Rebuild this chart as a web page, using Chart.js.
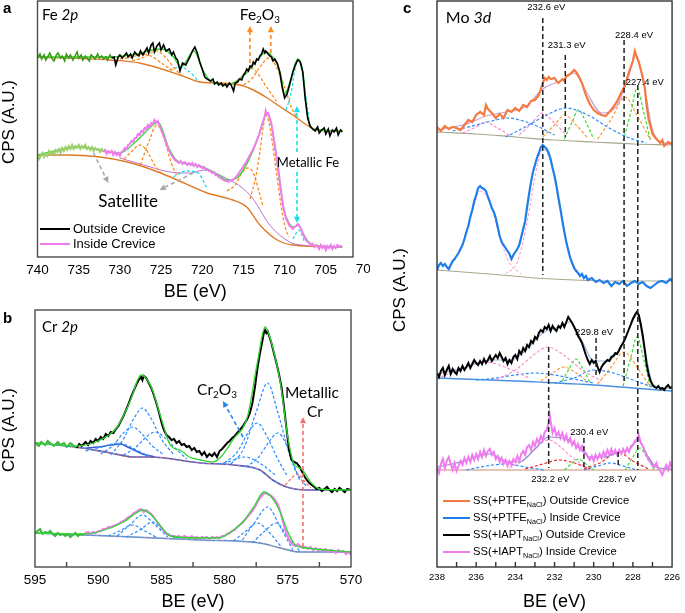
<!DOCTYPE html>
<html>
<head>
<meta charset="utf-8">
<script src="https://cdn.jsdelivr.net/npm/chart.js@4.4.0/dist/chart.umd.min.js"></script>
<style>
html, body { margin: 0; padding: 0; background: #fff; width: 685px; height: 613px; overflow: hidden; }
canvas { position: absolute; }
</style>
</head>
<body>
<canvas id="chartA" width="370" height="303" style="left:0;top:0"></canvas>
<canvas id="chartB" width="370" height="313" style="left:0;top:300px"></canvas>
<canvas id="chartC" width="300" height="613" style="left:385px;top:0"></canvas>
<script>
// --- DATEN: [BE (eV), Intensitaet (a.u.)] ---

// Panel a: Fe 2p
const feOut = [[740.0,199],[739.7,203],[739.5,198],[739.2,202],[739.0,197],[738.7,201],[738.5,204],[738.2,198],[738.0,196],[737.7,202],[737.5,204],[737.2,199],[737.0,201],[736.7,196],[736.5,203],[736.2,199],[736.0,202],[735.7,197],[735.5,200],[735.2,205],[735.0,199],[734.7,202],[734.5,197],[734.2,201],[734.0,199],[733.7,196],[733.5,202],[733.2,200],[733.0,198],[732.7,203],[732.5,199],[732.2,201],[732.0,198],[731.7,200],[731.5,197],[731.2,202],[731.0,199],[730.7,200],[730.5,192],[730.2,200],[730.0,202],[729.7,199],[729.5,201],[729.2,204],[729.0,200],[728.7,203],[728.5,199],[728.2,205],[728.0,203],[727.7,201],[727.5,206],[727.2,202],[727.0,205],[726.7,209],[726.5,204],[726.2,212],[726.0,214],[725.8,205],[725.5,211],[725.2,214],[725.0,207],[724.7,212],[724.4,206],[724.0,208],[723.7,202],[723.5,205],[723.2,199],[723.0,197],[722.7,186],[722.4,194],[722.0,192],[721.7,197],[721.5,200],[721.2,206],[720.9,210],[720.6,204],[720.3,195],[720.0,188],[719.7,180],[719.4,178],[719.0,176],[718.7,178],[718.5,173],[718.2,175],[718.0,172],[717.7,174],[717.5,171],[717.2,173],[717.0,170],[716.7,174],[716.5,172],[716.2,166],[716.0,174],[715.7,175],[715.5,178],[715.2,177],[715.0,182],[714.8,184],[714.6,188],[714.4,186],[714.2,191],[714.0,190],[713.8,195],[713.6,193],[713.4,198],[713.2,197],[713.0,201],[712.8,203],[712.6,208],[712.4,204],[712.3,206],[712.0,203],[711.8,201],[711.6,200],[711.4,196],[711.2,198],[710.9,194],[710.6,185],[710.3,170],[710.0,159],[709.7,163],[709.4,172],[709.0,185],[708.7,192],[708.4,197],[708.1,195],[707.8,185],[707.5,158],[707.2,139],[706.9,131],[706.6,128],[706.3,126],[706.0,130],[705.8,124],[705.5,127],[705.2,129],[705.0,123],[704.7,128],[704.5,121],[704.2,127],[704.0,125],[703.7,129],[703.5,122],[703.2,127],[703.0,125]];
const feOutFit = [[740,200],[731,200],[728,203],[726,207],[724.8,208],[723.5,200],[722.6,190],[721,206],[720,188],[719,176],[717,172],[715,181],[713,200],[712.3,205],[711.2,197],[710.5,184],[710,163],[709.4,174],[708.4,198],[707.8,186],[707.2,140],[706.5,128],[703,126]];
const feOutBg = [[740,200],[731.2,197],[727.6,194],[722.7,182],[720.3,175],[718.2,174],[715.4,172],[713.8,167],[712.1,159],[710.5,150],[709,142],[707.3,132],[706.1,127],[703,126]];
const feOutSat1 = [[730,198],[728.5,200],[727.2,203],[726,200],[724.8,193],[723.5,186]];
const feOutSat2 = [[728.5,196],[727,200],[725.6,206],[724.5,200],[723.3,188],[722.3,180]];
const feOutSatCy = [[724,187],[722.7,190],[721.5,185],[720.5,176]];
const feOutOx1 = [[717,172],[716,175],[715,182],[714.2,189],[713.4,185],[712.2,170],[711,156]];
const feOutOx2 = [[715,172],[714,178],[713,190],[711.9,199],[711,190],[710,170],[709.2,150],[708.4,138]];
const feOutMet = [[709.8,147],[709.2,165],[708.7,190],[708.4,197],[708.0,190],[707.5,165],[707.0,135]];

const feIn = [[740.0,102],[739.8,98],[739.6,101],[739.4,104],[739.2,100],[739.0,103],[738.8,101],[738.6,106],[738.4,103],[738.2,105],[738.0,102],[737.8,107],[737.6,105],[737.4,108],[737.2,104],[737.0,109],[736.8,106],[736.6,110],[736.4,107],[736.2,111],[736.0,108],[735.8,112],[735.6,108],[735.4,111],[735.2,109],[735.0,112],[734.8,108],[734.6,111],[734.4,109],[734.2,112],[734.0,108],[733.8,110],[733.6,107],[733.4,110],[733.2,106],[733.0,109],[732.8,107],[732.6,108],[732.4,105],[732.2,108],[732.0,105],[731.8,107],[731.6,103],[731.4,106],[731.2,104],[731.0,106],[730.8,102],[730.6,105],[730.4,102],[730.2,104],[730.0,101],[729.8,105],[729.6,106],[729.4,109],[729.2,108],[729.0,112],[728.8,113],[728.6,116],[728.4,115],[728.2,119],[728.0,119],[727.8,123],[727.6,122],[727.4,126],[727.2,125],[727.0,129],[726.8,128],[726.6,132],[726.4,130],[726.2,134],[726.0,133],[725.8,137],[725.6,134],[725.4,136],[725.2,131],[725.0,128],[724.8,123],[724.6,119],[724.4,114],[724.2,110],[724.0,106],[723.8,103],[723.6,100],[723.4,98],[723.2,96],[723.0,95],[722.8,94],[722.6,96],[722.4,93],[722.2,95],[722.0,94],[721.8,92],[721.6,94],[721.4,92],[721.2,94],[721.0,91],[720.8,93],[720.6,90],[720.4,92],[720.2,90],[720.0,89],[719.8,90],[719.6,87],[719.4,88],[719.2,86],[719.0,86],[718.8,84],[718.6,85],[718.4,82],[718.2,82],[718.0,80],[717.8,79],[717.6,78],[717.4,77],[717.2,76],[717.0,76],[716.8,75],[716.6,77],[716.4,76],[716.2,78],[716.0,79],[715.8,81],[715.6,83],[715.4,86],[715.2,88],[715.0,91],[714.8,93],[714.6,96],[714.4,99],[714.2,102],[714.0,105],[713.8,108],[713.6,112],[713.4,116],[713.2,120],[713.0,125],[712.8,131],[712.6,136],[712.4,141],[712.3,146],[712.2,143],[712.0,144],[711.8,139],[711.6,133],[711.4,122],[711.2,112],[711.0,101],[710.8,90],[710.6,77],[710.4,64],[710.2,51],[710.0,44],[709.8,38],[709.6,35],[709.4,31],[709.2,30],[709.0,28],[708.8,30],[708.6,31],[708.4,33],[708.2,31],[708.0,28],[707.8,24],[707.6,20],[707.4,17],[707.2,15],[707.0,14],[706.8,12],[706.6,13],[706.4,10],[706.2,12],[706.0,11],[705.8,8],[705.6,12],[705.4,9],[705.2,11],[705.0,7],[704.8,11],[704.6,9],[704.4,12],[704.2,8],[704.0,11],[703.8,9],[703.6,12],[703.4,10],[703.2,11],[703.0,10]];
const feInFit = [[740,102],[735,110],[731,105],[730,104],[728,116],[726,132],[725.4,135],[724,108],[723,96],[720.3,91],[718,82],[717,77],[716,78],[714,103],[712.8,130],[712.2,144],[711.5,128],[711,100],[710.5,68],[710,45],[709.4,33],[708.9,30],[708.3,32],[707.8,24],[707,14],[706,11],[703,10]];
const feInBg = [[740,102],[736.4,102],[732.4,100],[729.1,95],[726,87],[723.6,79],[719.4,64],[716.3,57],[714.6,50],[713,32],[710.9,17],[709,12],[703,10]];
const feInShirley = [[730,99],[726.3,90],[723.9,85],[721.5,84],[719.7,87],[717.9,82],[714.2,62],[711.8,32],[709.4,15],[707,11]];
const feInSat1 = [[729.5,98],[728.5,106],[727.6,112],[726.7,106],[725.8,92],[725,84]];
const feInSat2 = [[727.5,92],[726.5,115],[725.5,132],[724.6,118],[723.8,95],[723,80]];
const feInSatCy = [[723.5,80],[722,86],[720.5,84],[719.5,70]];
const feInOx1 = [[717,66],[716,72],[715.2,84],[714.5,89],[713.8,84],[713.2,68],[712.6,50]];
const feInOx2 = [[714.2,58],[713.5,80],[713,105],[712.6,130],[712.3,142],[712,138],[711.5,115],[711,85],[710.5,55],[710,32],[709.5,20]];
const feInMet = [[709,18],[708.6,24],[708.3,27],[707.9,22],[707.6,15]];

// Panel b: Cr 2p
const crOut = [[595.0,124],[594.7,121],[594.5,125],[594.2,122],[594.0,126],[593.7,123],[593.5,121],[593.2,125],[593.0,122],[592.7,124],[592.5,120],[592.2,124],[592.0,122],[591.7,119],[591.5,123],[591.3,121],[591.0,125],[590.8,122],[590.6,126],[590.4,124],[590.2,128],[590.0,126],[589.8,130],[589.6,128],[589.4,133],[589.2,131],[589.0,135],[588.8,134],[588.6,138],[588.4,141],[588.2,146],[588.0,151],[587.8,157],[587.6,163],[587.4,170],[587.2,176],[587.0,182],[586.8,187],[586.6,190],[586.5,187],[586.4,191],[586.2,189],[586.0,184],[585.8,179],[585.6,172],[585.4,164],[585.2,155],[585.0,145],[584.8,137],[584.6,132],[584.4,130],[584.2,127],[584.0,128],[583.8,124],[583.6,126],[583.4,122],[583.2,123],[583.0,120],[582.8,121],[582.6,117],[582.4,119],[582.2,115],[582.0,116],[581.8,112],[581.6,115],[581.4,110],[581.2,113],[581.0,111],[580.8,114],[580.6,110],[580.4,116],[580.2,118],[580.0,121],[579.8,124],[579.6,126],[579.4,129],[579.2,131],[579.0,134],[578.8,137],[578.6,140],[578.4,144],[578.2,148],[578.0,154],[577.8,164],[577.6,180],[577.4,199],[577.2,214],[577.0,227],[576.9,234],[576.8,237],[576.7,234],[576.6,236],[576.5,232],[576.3,224],[576.1,214],[575.9,204],[575.7,193],[575.5,180],[575.3,160],[575.1,138],[574.9,117],[574.7,107],[574.5,105],[574.3,104],[574.1,101],[573.9,96],[573.7,91],[573.5,87],[573.3,84],[573.1,82],[572.9,80],[572.7,78],[572.5,79],[572.3,76],[572.1,78],[571.9,80],[571.7,77],[571.5,75],[571.3,78],[571.1,76],[570.9,79],[570.7,77],[570.5,75],[570.3,78],[570.0,77]];
const crOutFit = [[595,124],[591.8,121],[590,126],[588.5,140],[587.5,165],[586.6,192],[585.8,180],[585,148],[584.3,122],[583.4,116],[582.8,110],[581.9,107],[580.9,105],[580.3,110],[579.3,128],[578.2,150],[577.4,205],[576.8,240],[576.2,220],[575.6,185],[575,130],[574.5,103],[573.9,98],[573.2,85],[572.5,78],[570,77]];
const crOutBg = [[595,124],[591.8,120],[589,114],[587.2,110],[585.9,110],[581.9,104],[579.3,102],[577.2,97],[576.2,87],[575.1,80],[573.5,77],[570,77]];
const crOutBgHump = [[591,119],[590,120],[589,122],[588.3,123],[587.5,119],[586.5,113],[585.5,110]];
const crOxA = [[589,112],[588,128],[587.2,148],[586.5,159],[585.8,148],[585,128],[584,112]];
const crOxB = [[589.8,113],[588.8,122],[588,134],[587.3,140],[586.6,134],[585.8,122],[584.8,112]];
const crOxC = [[588,112],[587,120],[586.2,130],[585.5,135],[584.8,130],[584,120],[583,108]];
const crOxD = [[591,116],[590,119],[589.2,122],[588.5,124],[587.8,122],[587,117],[586,111]];
const crOxE = [[579.5,103],[578.5,118],[577.5,155],[576.6,184],[575.8,155],[574.8,110],[574,85]];
const crOxF = [[580,104],[579,115],[578.1,135],[577.4,144],[576.7,132],[575.8,108],[575,90]];
const crOxG = [[578.3,100],[577.3,110],[576.5,125],[575.8,134],[575.1,122],[574.3,95],[573.5,80]];
const crOxH = [[580.5,103],[579.5,106],[578.9,109],[578.4,110],[577.8,108],[577,102],[576,92]];
const crOutMet = [[575.2,82],[574.6,90],[574.2,93],[573.7,86],[573.2,79]];

const crIn = [[595.0,34],[594.8,36],[594.6,38],[594.4,33],[594.2,35],[594.0,34],[593.8,36],[593.6,33],[593.4,31],[593.2,34],[593.0,32],[592.8,33],[592.6,31],[592.4,33],[592.2,30],[592.0,32],[591.8,34],[591.6,31],[591.4,33],[591.2,32],[591.0,34],[590.8,35],[590.6,33],[590.4,35],[590.2,34],[590.0,36],[589.8,36],[589.6,38],[589.4,38],[589.2,40],[589.0,40],[588.8,41],[588.6,42],[588.4,43],[588.2,45],[588.0,46],[587.8,48],[587.6,50],[587.4,51],[587.2,54],[587.0,55],[586.8,57],[586.6,58],[586.4,55],[586.2,57],[586.0,55],[585.8,53],[585.6,50],[585.4,46],[585.2,43],[585.0,39],[584.8,36],[584.6,33],[584.4,32],[584.2,31],[584.0,31],[583.8,30],[583.6,31],[583.4,29],[583.2,31],[583.0,30],[582.8,29],[582.6,31],[582.4,29],[582.2,30],[582.0,28],[581.8,30],[581.6,29],[581.4,30],[581.2,28],[581.0,30],[580.8,29],[580.6,30],[580.4,29],[580.2,31],[580.0,31],[579.8,33],[579.6,34],[579.4,36],[579.2,37],[579.0,40],[578.8,42],[578.6,44],[578.4,47],[578.2,50],[578.0,53],[577.8,56],[577.6,60],[577.4,65],[577.2,69],[577.0,72],[576.8,74],[576.6,73],[576.4,72],[576.2,70],[576.0,67],[575.8,63],[575.6,56],[575.4,46],[575.2,37],[575.0,30],[574.8,25],[574.6,22],[574.4,21],[574.2,23],[574.0,21],[573.8,19],[573.6,20],[573.4,18],[573.2,20],[573.0,17],[572.8,19],[572.6,17],[572.4,18],[572.2,16],[572.0,18],[571.8,15],[571.6,17],[571.4,16],[571.2,14],[571.0,17],[570.8,15],[570.6,16],[570.4,13],[570.2,15],[570.0,12]];
const crInFit = [[595,34],[591,33],[589.5,37],[588,45],[587,54],[586.5,57],[585.8,52],[585,40],[584.3,31],[582,29],[580.5,29],[579.5,35],[578.5,46],[577.6,62],[576.9,75],[576.3,70],[575.6,55],[575,35],[574.4,22],[573.5,19],[570,15]];
const crInBg = [[595,34],[589.1,31],[581.9,27],[577.2,24],[575.6,19],[574,15],[570,15]];
const crInA = [[588.5,31],[587.5,42],[586.5,52],[585.5,42],[584.5,30]];
const crInB = [[589.2,31],[588.3,36],[587.3,42],[586.3,36],[585.3,29]];
const crInC = [[587.8,30],[586.7,37],[585.7,45],[584.8,36],[583.8,28]];
const crInD = [[578.6,27],[577.6,45],[576.6,60],[575.6,40],[574.6,17]];
const crInE = [[579.3,26],[578.3,36],[577.4,44],[576.5,35],[575.5,20]];
const crInF = [[577.8,24],[576.9,35],[575.9,44],[575,30],[574,15]];

// Beginn des gefitteten Bereichs (links davon ist die Messkurve gruen)
const feFitStart = 731.0;
const crOutFitStart = 591.8;
const crInFitStart = 591.2;

// Panel c: Mo 3d
const moPtfeOut = [[238.0,440],[237.8,436],[237.6,441],[237.4,438],[237.2,440],[237.0,439],[236.8,437],[236.6,442],[236.4,447],[236.2,445],[236.0,452],[235.8,455],[235.6,452],[235.5,462],[235.4,458],[235.2,454],[235.0,449],[234.8,453],[234.6,449],[234.4,457],[234.2,455],[234.0,459],[233.8,456],[233.6,462],[233.4,460],[233.2,466],[233.0,467],[232.8,472],[232.6,484],[232.5,489],[232.4,487],[232.3,490],[232.2,488],[232.0,489],[231.9,486],[231.8,484],[231.6,488],[231.5,486],[231.4,491],[231.2,493],[231.0,497],[230.9,495],[230.8,492],[230.6,484],[230.4,472],[230.2,463],[230.0,457],[229.8,454],[229.6,452],[229.4,451],[229.2,455],[229.0,460],[228.8,466],[228.6,474],[228.4,482],[228.2,495],[228.0,506],[227.9,516],[227.8,510],[227.7,505],[227.5,490],[227.4,480],[227.3,462],[227.2,448],[227.0,433],[226.8,428],[226.6,424],[226.5,427],[226.4,421],[226.2,425],[226.0,423]];
const moPtfeOutFit = [[238,437],[236.5,443],[235.5,451],[234.5,455],[233.5,460],[232.6,478],[231.6,487],[231,494],[230.4,476],[229.6,454],[228.8,462],[228.2,492],[227.85,512],[227.4,478],[227,437],[226.4,424],[226,423]];
const moPtfeOutBg = [[238,435],[236,433],[234,430],[232,427],[230,425],[228,423],[226,422]];
const moPtfeOutB1 = [[237.2,436],[236,442],[235,447],[234.4,449],[233.6,446],[232.8,440],[232,432]];
const moPtfeOutB2 = [[234.5,430],[233.5,440],[232.5,451],[231.4,459],[230.3,452],[229.3,440],[228.3,430],[227.3,424]];
const moPtfeOutP1 = [[236.7,434],[236,440],[235.5,445],[235,440],[234.3,432]];
const moPtfeOutP2 = [[233.8,432],[233.2,443],[232.62,454],[232,444],[231.4,432]];
const moPtfeOutO1 = [[232.6,430],[232,442],[231.48,452],[230.9,442],[230.3,429]];
const moPtfeOutO2 = [[229.8,428],[229.1,448],[228.4,470],[227.8,452],[227.1,427]];
const moPtfeOutG1 = [[231.5,428],[231.1,445],[230.78,457],[230.4,445],[230,428]];
const moPtfeOutG2 = [[228.5,426],[228.1,455],[227.79,479],[227.45,455],[227.1,426]];

const moPtfeIn = [[238.0,297],[237.9,302],[237.8,304],[237.7,301],[237.6,303],[237.5,300],[237.4,298],[237.3,302],[237.2,306],[237.1,308],[237.0,311],[236.9,314],[236.8,318],[236.7,322],[236.6,328],[236.5,335],[236.4,341],[236.3,350],[236.2,357],[236.1,366],[236.0,372],[235.9,379],[235.8,381],[235.7,379],[235.6,378],[235.5,376],[235.4,370],[235.3,365],[235.2,359],[235.1,355],[235.0,349],[234.9,340],[234.8,331],[234.7,325],[234.6,322],[234.5,319],[234.4,316],[234.3,313],[234.2,308],[234.1,312],[234.0,315],[233.9,318],[233.8,322],[233.7,330],[233.6,338],[233.5,346],[233.4,360],[233.3,373],[233.2,385],[233.1,395],[233.0,402],[232.9,409],[232.8,414],[232.7,420],[232.6,422],[232.5,420],[232.4,418],[232.3,414],[232.2,408],[232.1,399],[232.0,391],[231.9,381],[231.8,369],[231.7,358],[231.6,346],[231.5,335],[231.4,325],[231.3,317],[231.2,309],[231.1,304],[231.0,299],[230.9,296],[230.8,294],[230.7,291],[230.6,293],[230.5,289],[230.4,291],[230.3,287],[230.1,289],[229.9,285],[229.7,287],[229.5,284],[229.3,286],[229.1,281],[228.9,285],[228.7,283],[228.5,286],[228.3,281],[228.1,284],[227.9,286],[227.7,283],[227.5,285],[227.3,281],[227.1,279],[226.9,282],[226.7,285],[226.5,286],[226.3,284],[226.1,288],[226.0,286]];
const moPtfeInBg = [[238,297],[236,294],[234.7,292],[233,289],[231,287],[229,286],[226,286]];
const moPtfeInP1 = [[237.5,298],[236.8,318],[236.2,355],[235.8,376],[235.3,365],[234.8,330],[234.3,304],[233.7,293]];
const moPtfeInP2 = [[234.5,293],[233.9,305],[233.4,345],[232.9,400],[232.6,418],[232.2,405],[231.7,356],[231.2,310],[230.6,290]];

const moIaptOut = [[238.0,194],[237.9,190],[237.8,196],[237.7,199],[237.6,192],[237.5,197],[237.4,201],[237.3,193],[237.2,198],[237.1,195],[237.0,193],[236.9,199],[236.8,196],[236.7,201],[236.6,197],[236.5,200],[236.4,204],[236.3,199],[236.2,203],[236.1,207],[236.0,204],[235.9,202],[235.8,206],[235.7,203],[235.6,208],[235.5,204],[235.4,207],[235.3,211],[235.2,206],[235.1,209],[235.0,212],[234.9,209],[234.8,214],[234.7,210],[234.6,206],[234.5,209],[234.4,203],[234.3,207],[234.2,204],[234.1,210],[234.0,212],[233.9,208],[233.8,216],[233.7,213],[233.6,219],[233.5,216],[233.4,222],[233.3,220],[233.2,226],[233.1,224],[233.0,230],[232.9,228],[232.8,234],[232.7,237],[232.6,235],[232.5,240],[232.4,238],[232.3,242],[232.2,236],[232.1,241],[232.0,238],[231.9,236],[231.8,241],[231.7,239],[231.6,244],[231.5,240],[231.4,245],[231.3,250],[231.2,247],[231.1,244],[231.0,240],[230.9,236],[230.8,231],[230.7,228],[230.6,224],[230.5,218],[230.4,212],[230.3,207],[230.2,203],[230.1,207],[230.0,204],[229.9,206],[229.8,200],[229.7,195],[229.6,200],[229.5,203],[229.4,205],[229.3,207],[229.2,206],[229.1,210],[229.0,211],[228.9,214],[228.8,213],[228.7,217],[228.6,221],[228.5,224],[228.4,228],[228.3,233],[228.2,238],[228.1,243],[228.0,248],[227.9,252],[227.8,255],[227.7,252],[227.6,243],[227.5,232],[227.4,218],[227.3,203],[227.2,193],[227.1,186],[227.0,182],[226.9,180],[226.8,179],[226.7,181],[226.6,178],[226.5,179],[226.4,177],[226.3,180],[226.2,182],[226.1,179],[226.0,180]];
const moIaptOutFit = [[238,193],[236.5,200],[235.3,207],[234.3,207],[233.5,216],[232.6,234],[231.8,240],[231.2,245],[230.6,226],[230,206],[229.3,206],[228.6,220],[228.1,242],[227.8,252],[227.4,218],[227,184],[226.5,179],[226,179]];
const moIaptOutBg = [[238,189],[234,186],[230,182],[228,179],[226,176]];
const moIaptOutP1 = [[237.8,190],[236.8,198],[235.5,205],[234.3,198],[233.3,189]];
const moIaptOutP2 = [[235,187],[234,197],[233,213],[232.37,220],[231.6,213],[230.6,197],[229.6,186]];
const moIaptOutB1 = [[236,187],[235,189],[234,192],[233,194],[232,192],[231,188],[230,184]];
const moIaptOutB2 = [[232,184],[231,189],[230,197],[229,194],[228,187],[227,180]];
const moIaptOutO1 = [[232.7,186],[232.1,194],[231.53,200],[230.9,194],[230.3,185]];
const moIaptOutO2 = [[229.8,183],[229.1,200],[228.44,215],[227.8,200],[227.1,180]];
const moIaptOutG1 = [[231.6,186],[231.2,200],[230.93,208],[230.6,200],[230.2,185]];
const moIaptOutG2 = [[228.5,181],[228.1,210],[227.79,230],[227.45,208],[227.1,179]];

const moIaptIn = [[238.0,100],[237.9,94],[237.8,103],[237.7,108],[237.6,99],[237.5,106],[237.4,110],[237.3,103],[237.2,97],[237.1,104],[237.0,96],[236.9,101],[236.8,106],[236.7,102],[236.6,109],[236.5,104],[236.4,110],[236.3,105],[236.2,112],[236.1,107],[236.0,113],[235.9,108],[235.8,115],[235.7,110],[235.6,117],[235.5,111],[235.4,116],[235.3,118],[235.2,112],[235.1,115],[235.0,108],[234.9,111],[234.8,105],[234.7,109],[234.6,103],[234.5,107],[234.4,101],[234.3,106],[234.2,102],[234.1,108],[234.0,105],[233.9,111],[233.8,106],[233.7,113],[233.6,116],[233.5,112],[233.4,120],[233.3,122],[233.2,117],[233.1,125],[233.0,121],[232.9,128],[232.8,124],[232.7,131],[232.6,127],[232.5,135],[232.4,137],[232.3,144],[232.25,153],[232.2,146],[232.1,134],[232.0,139],[231.9,131],[231.8,135],[231.7,129],[231.6,134],[231.5,127],[231.4,132],[231.3,125],[231.2,129],[231.1,122],[231.0,126],[230.9,119],[230.8,123],[230.7,117],[230.6,121],[230.5,115],[230.4,114],[230.3,110],[230.2,107],[230.1,111],[230.0,106],[229.9,112],[229.8,108],[229.7,113],[229.6,109],[229.5,115],[229.4,111],[229.3,117],[229.2,112],[229.1,118],[229.0,113],[228.9,117],[228.8,112],[228.7,117],[228.6,113],[228.5,118],[228.4,114],[228.3,119],[228.2,115],[228.1,121],[228.0,122],[227.9,126],[227.8,128],[227.7,132],[227.6,124],[227.5,121],[227.4,116],[227.3,112],[227.2,107],[227.1,105],[227.0,101],[226.9,100],[226.8,104],[226.7,98],[226.6,96],[226.5,92],[226.4,97],[226.3,102],[226.2,97],[226.1,104],[226.0,99]];
const moIaptInFit = [[238,100],[237,104],[236,110],[235.3,113],[234.5,106],[233.8,105],[233,118],[232.3,130],[231.5,128],[230.8,120],[230.2,110],[229.5,110],[228.8,114],[228.2,117],[227.7,127],[227.3,113],[226.8,100],[226,98]];
const moIaptInBg = [[238,97],[232,97],[226,97]];
const moIaptInP1 = [[234.3,99],[233.5,108],[232.8,122],[232.27,127],[231.7,120],[231,108],[230.3,99]];
const moIaptInR1 = [[233.5,98],[232.6,103],[231.78,107],[231,104],[230.2,98]];
const moIaptInR2 = [[230.5,98],[229.6,105],[228.79,115],[228,106],[227.2,98]];
const moIaptInG1 = [[231.5,97],[231.1,104],[230.78,108],[230.4,103],[230,97]];
const moIaptInG2 = [[228.4,97],[228,110],[227.64,119],[227.3,110],[226.9,97]];
const moIaptInB1 = [[236.5,97],[235.5,101],[234.5,103],[233.5,100],[232.5,97]];
const moIaptInB2 = [[230.5,97],[229.8,101],[229.14,104],[228.5,101],[227.8,97]];

// Markierungen (BE-Lage, oberes und unteres Ende der gestrichelten Linie, Beschriftung)
const moMarkBE = [232.6, 231.45, 228.45, 227.75, 229.88, 232.3, 230.5, 228.75];
const moMarkTop = [549, 512, 527, 482, 229, 220, 129, 115];
const moMarkBottom = [292, 430, 184, 97, 192, 99, 99, 99];
const moLabelText = ['232.6 eV', '231.3 eV', '228.4 eV', '227.4 eV', '229.8 eV', '232.2 eV', '230.4 eV', '228.7 eV'];
const moLabelBE = [232.42, 231.38, 227.94, 227.39, 229.98, 232.22, 230.23, 228.79];
const moLabelY = [560, 522, 532, 485, 235, 88, 135, 88];

const moLegendNames = ['PTFE', 'PTFE', 'IAPT', 'IAPT'];
const moLegendSides = ['Outside Crevice', 'Inside Crevice', 'Outside Crevice', 'Inside Crevice'];

// --- ENDE DATEN ---

const ARIAL = '"Liberation Sans", Arial, sans-serif';
const CALI = 'Lato, "Open Sans", sans-serif';

function ser(pts, color, extra) {
  return Object.assign({
    data: pts.map(p => ({ x: p[0], y: p[1] })),
    borderColor: color, borderWidth: 1.5, pointRadius: 0, fill: false, tension: 0
  }, extra || {});
}
function smooth(pts, color, w) {
  return ser(pts, color, { borderWidth: w || 1.2, cubicInterpolationMode: 'monotone' });
}
function comp(pts, color, w, dash) {
  return ser(pts, color, { borderWidth: w || 1.2, borderDash: dash || [3, 2], cubicInterpolationMode: 'monotone' });
}
// Messkurve: links vom Fitbereich gruen eingefaerbt
function measured(pts, color, w, fitStart, fitColor) {
  return ser(pts, color, {
    borderWidth: w,
    segment: { borderColor: c => (c.p0.parsed.x > fitStart ? fitColor : undefined) }
  });
}

// Text mit Tief- und Kursivstellung: '_' = tief, '*' = kursiv
function drawRich(ctx, parts, x, y, size, fam, color, align, weight) {
  const fontOf = p => {
    const sub = p[0] === '_', it = p[0] === '*';
    return (it ? 'italic ' : '') + (weight || '') + ' ' + (sub ? size * 0.64 : size) + 'px ' + fam;
  };
  const txt = p => (p[0] === '_' || p[0] === '*') ? p.slice(1) : p;
  let w = 0;
  parts.forEach(p => { ctx.font = fontOf(p); w += ctx.measureText(txt(p)).width; });
  let cx = align === 'center' ? x - w / 2 : x;
  ctx.fillStyle = color;
  ctx.textAlign = 'left';
  ctx.textBaseline = 'middle';
  parts.forEach(p => {
    ctx.font = fontOf(p);
    ctx.fillText(txt(p), cx, p[0] === '_' ? y + size * 0.32 : y);
    cx += ctx.measureText(txt(p)).width;
  });
}

function drawArrow(ctx, x1, y1, x2, y2, color, w, head) {
  const ang = Math.atan2(y2 - y1, x2 - x1);
  ctx.strokeStyle = color;
  ctx.fillStyle = color;
  ctx.lineWidth = w;
  ctx.setLineDash([4, 3]);
  ctx.beginPath();
  ctx.moveTo(x1, y1);
  ctx.lineTo(x2 - Math.cos(ang) * head * 0.8, y2 - Math.sin(ang) * head * 0.8);
  ctx.stroke();
  ctx.setLineDash([]);
  ctx.beginPath();
  ctx.moveTo(x2, y2);
  ctx.lineTo(x2 - head * Math.cos(ang - 0.45), y2 - head * Math.sin(ang - 0.45));
  ctx.lineTo(x2 - head * Math.cos(ang + 0.45), y2 - head * Math.sin(ang + 0.45));
  ctx.closePath();
  ctx.fill();
}

const panelDeco = {
  id: 'panelDeco',
  afterDatasetsDraw(chart, args, o) {
    const { ctx, chartArea: a, scales: { x, y } } = chart;
    ctx.save();
    // Rahmen
    ctx.strokeStyle = o.boxColor;
    ctx.lineWidth = 1.4;
    ctx.setLineDash([]);
    ctx.strokeRect(a.left, a.top, a.right - a.left, a.bottom - a.top);
    // innenliegende Teilstriche
    (o.minorTicks || []).forEach(v => {
      const px = x.getPixelForValue(v);
      ctx.beginPath();
      ctx.moveTo(px, a.bottom);
      ctx.lineTo(px, a.bottom - 5);
      ctx.stroke();
    });
    // angeschnittene Achsbeschriftung rechts (Panel a)
    if (o.edgeTick) {
      drawRich(ctx, [String(o.edgeTick)], x.getPixelForValue(o.edgeTick), a.bottom + 12, 13.5, ARIAL, '#000', 'center');
    }
    // Pfeile
    (o.arrows || []).forEach(ar => {
      drawArrow(ctx, x.getPixelForValue(ar.from[0]), y.getPixelForValue(ar.from[1]),
        x.getPixelForValue(ar.to[0]), y.getPixelForValue(ar.to[1]), ar.color, ar.w || 1.6, ar.head || 7);
    });
    // Beschriftungen im Datenraum
    (o.texts || []).forEach(t => {
      drawRich(ctx, t.parts, x.getPixelForValue(t.x), y.getPixelForValue(t.y), t.size, t.fam || ARIAL, t.color || '#000', t.align || 'center');
    });
    // Legende
    if (o.legend) {
      const L = o.legend;
      L.items.forEach((it, i) => {
        const yy = L.y0 + i * L.dy;
        ctx.strokeStyle = it.color;
        ctx.lineWidth = 2;
        ctx.beginPath();
        ctx.moveTo(L.x0, yy);
        ctx.lineTo(L.x0 + L.len, yy);
        ctx.stroke();
        drawRich(ctx, it.parts, L.x0 + L.len + 3, yy, L.size, ARIAL, '#000', 'left');
      });
    }
    // Panelbuchstabe und y-Titel
    drawRich(ctx, [o.letter], o.letterPos[0], o.letterPos[1], 15, ARIAL, '#000', 'left', 'bold');
    ctx.translate(o.yTitlePos[0], o.yTitlePos[1]);
    ctx.rotate(-Math.PI / 2);
    drawRich(ctx, ['CPS (A.U.)'], 0, 0, 17, ARIAL, '#000', 'center');
    ctx.restore();
  }
};

function makeChart(id, cfg) {
  return new Chart(document.getElementById(id), {
    type: 'line',
    data: { datasets: cfg.datasets },
    options: {
      responsive: false,
      animation: false,
      events: [],
      layout: { padding: cfg.pad },
      scales: {
        x: {
          type: 'linear', reverse: true, min: cfg.xmin, max: cfg.xmax,
          afterFit: s => { s.height = cfg.axisH; },
          grid: { display: false, drawTicks: false },
          border: { display: false },
          ticks: {
            stepSize: cfg.step, includeBounds: false, autoSkip: false, maxRotation: 0,
            padding: cfg.tickPad, color: '#000', font: { family: ARIAL, size: cfg.tickSize }
          },
          title: { display: true, text: 'BE (eV)', color: '#000', padding: 0, font: { family: ARIAL, size: 18 } }
        },
        y: { display: false, min: 0, max: cfg.ymax }
      },
      plugins: { legend: { display: false }, tooltip: { enabled: false }, panelDeco: cfg.deco }
    },
    plugins: [panelDeco]
  });
}

// Farben
const ORANGE_DASH = '#ff8a1c', ORANGE_BG = '#e07a26', CYAN = '#14e0f0', LIME = '#2fd62f';
const VIOLET = '#f07cf0', BLUE_DASH = '#2b8cff';

// Panel a
makeChart('chartA', {
  xmin: 701.7, xmax: 740, step: 5, ymax: 256, axisH: 46, tickPad: 5, tickSize: 13.5,
  pad: { left: 37.5, right: 17, top: 1, bottom: 0 },
  datasets: [
    measured(feOut, '#000', 1.6, feFitStart, '#3c9a1c'),
    smooth(feOutFit, LIME, 1.3),
    measured(feIn, VIOLET, 2, feFitStart + 1, '#9ccf6a'),
    smooth(feInFit, LIME, 1.3),
    comp(feOutMet, CYAN, 1.3),
    comp(feOutOx1, ORANGE_DASH, 1.3), comp(feOutOx2, ORANGE_DASH, 1.3),
    comp(feOutSat1, ORANGE_DASH, 1.3), comp(feOutSat2, ORANGE_DASH, 1.3), comp(feOutSatCy, CYAN, 1.3),
    smooth(feOutBg, ORANGE_BG, 1.4),
    comp(feInMet, CYAN, 1.3),
    comp(feInOx1, ORANGE_DASH, 1.3), comp(feInOx2, ORANGE_DASH, 1.3),
    comp(feInSat1, ORANGE_DASH, 1.3), comp(feInSat2, ORANGE_DASH, 1.3), comp(feInSatCy, CYAN, 1.3),
    smooth(feInShirley, '#b565c8', 0.9),
    smooth(feInBg, ORANGE_BG, 1.4)
  ],
  deco: {
    boxColor: '#4a4a4a', letter: 'a', letterPos: [3, 9], yTitlePos: [9, 122], edgeTick: 700,
    arrows: [
      { from: [714.21, 194], to: [714.21, 231], color: ORANGE_DASH },
      { from: [711.67, 204], to: [711.67, 231], color: ORANGE_DASH },
      { from: [708.5, 105], to: [708.5, 151], color: CYAN },
      { from: [708.5, 85], to: [708.5, 34], color: CYAN },
      { from: [733.2, 104], to: [731.4, 74], color: '#a8a8a8' },
      { from: [721.1, 84], to: [725.2, 67], color: '#a8a8a8' }
    ],
    texts: [
      { x: 739.45, y: 242, parts: ['Fe ', '*2p'], size: 15, fam: CALI, align: 'left' },
      { x: 713.0, y: 242, parts: ['Fe', '_2', 'O', '_3'], size: 15.5, fam: CALI },
      { x: 729.0, y: 55, parts: ['Satellite'], size: 17, fam: CALI },
      { x: 707.17, y: 94, parts: ['Metallic Fe'], size: 13, fam: CALI }
    ],
    legend: {
      x0: 40, y0: 229, dy: 15, len: 30, size: 13,
      items: [{ color: '#000', parts: ['Outside Crevice'] }, { color: VIOLET, parts: ['Inside Crevice'] }]
    }
  }
});

// Panel b
const CR_BG_BLUE = '#3a5fd0', CR_BG_RED = '#f07070';
makeChart('chartB', {
  xmin: 570, xmax: 595, step: 5, ymax: 257, axisH: 46, tickPad: 5, tickSize: 13.5,
  pad: { left: 35, right: 19, top: 10, bottom: 0 },
  datasets: [
    smooth(crOutFit, LIME, 1.3),
    measured(crOut, '#000', 2, crOutFitStart, '#3fb23f'),
    smooth(crInFit, LIME, 1.3),
    measured(crIn, VIOLET, 2, crInFitStart, '#3fb23f'),
    comp(crOutMet, CR_BG_RED, 1.2),
    comp(crOxA, BLUE_DASH), comp(crOxB, BLUE_DASH), comp(crOxC, BLUE_DASH), comp(crOxD, BLUE_DASH),
    comp(crOxE, BLUE_DASH), comp(crOxF, BLUE_DASH), comp(crOxG, BLUE_DASH), comp(crOxH, BLUE_DASH),
    comp(crInA, BLUE_DASH), comp(crInB, BLUE_DASH), comp(crInC, BLUE_DASH),
    comp(crInD, BLUE_DASH), comp(crInE, BLUE_DASH), comp(crInF, BLUE_DASH),
    comp(crOutBg, CR_BG_RED, 1, [3, 3]),
    smooth(crOutBgHump, CR_BG_BLUE, 1.6),
    smooth(crOutBg, CR_BG_BLUE, 1.6),
    comp(crInBg, '#c98f8f', 1, [3, 3]),
    smooth(crInBg, '#4f8fd8', 1.4)
  ],
  deco: {
    boxColor: '#4a4a4a', letter: 'b', letterPos: [3, 19], yTitlePos: [9, 130],
    minorTicks: [592.5, 587.5, 582.5, 577.5, 572.5],
    arrows: [
      { from: [573.8, 20], to: [573.8, 150], color: CR_BG_RED },
      { from: [578.54, 130], to: [580.13, 166], color: '#2a86e8' }
    ],
    texts: [
      { x: 594.45, y: 240, parts: ['Cr ', '*2p'], size: 15, fam: CALI, align: 'left' },
      { x: 580.6, y: 177, parts: ['Cr', '_2', 'O', '_3'], size: 15.5, fam: CALI },
      { x: 573.09, y: 174, parts: ['Metallic'], size: 15.5, fam: CALI },
      { x: 572.85, y: 155, parts: ['Cr'], size: 15.5, fam: CALI }
    ]
  }
});

// Panel c
const MO_ORANGE = '#f47a42', MO_BLUE = '#1f7fe8', MO_PINK = '#ff8fd0', MO_ORDASH = '#ff9a33';
const MO_GREEN = '#2fe02f', MO_RED = '#ee3030', MO_BG = '#a8a890';
const markSets = moMarkBE.map((be, i) => ser([[be, moMarkTop[i]], [be, moMarkBottom[i]]], '#222', { borderWidth: 1.5, borderDash: [5, 3] }));
makeChart('chartC', {
  xmin: 226, xmax: 238, step: 2, ymax: 566, axisH: 46, tickPad: 5, tickSize: 9.5,
  pad: { left: 52, right: 7, top: 1, bottom: 0 },
  datasets: markSets.concat([
    ser(moPtfeOut, MO_ORANGE, { borderWidth: 2.2 }),
    ser(moPtfeIn, MO_BLUE, { borderWidth: 2.2 }),
    ser(moIaptOut, '#000', { borderWidth: 2 }),
    ser(moIaptIn, VIOLET, { borderWidth: 2 }),
    smooth(moPtfeOutFit, '#c9a0d6', 1.2),
    smooth(moIaptOutFit, '#9cb9dc', 1.2),
    smooth(moIaptInFit, '#8a8ad0', 1.2),
    comp(moPtfeOutB1, BLUE_DASH), comp(moPtfeOutB2, BLUE_DASH),
    comp(moPtfeOutP1, MO_PINK), comp(moPtfeOutP2, MO_PINK),
    comp(moPtfeOutO1, MO_ORDASH), comp(moPtfeOutO2, MO_ORDASH),
    comp(moPtfeOutG1, MO_GREEN), comp(moPtfeOutG2, MO_GREEN),
    smooth(moPtfeOutBg, MO_BG, 1.2),
    comp(moPtfeInP1, MO_PINK, 1), comp(moPtfeInP2, MO_PINK, 1),
    smooth(moPtfeInBg, MO_BG, 1.2),
    comp(moIaptOutP1, MO_PINK), comp(moIaptOutP2, MO_PINK),
    comp(moIaptOutB1, BLUE_DASH), comp(moIaptOutB2, BLUE_DASH),
    comp(moIaptOutO1, MO_ORDASH), comp(moIaptOutO2, MO_ORDASH),
    comp(moIaptOutG1, MO_GREEN), comp(moIaptOutG2, MO_GREEN),
    smooth(moIaptOutBg, '#4a90e0', 1.4),
    comp(moIaptInP1, MO_PINK), comp(moIaptInR1, MO_RED), comp(moIaptInR2, MO_RED),
    comp(moIaptInG1, MO_GREEN), comp(moIaptInG2, MO_GREEN),
    comp(moIaptInB1, BLUE_DASH), comp(moIaptInB2, BLUE_DASH),
    smooth(moIaptInBg, '#e0b0a0', 1.4)
  ]),
  deco: {
    boxColor: '#333', letter: 'c', letterPos: [18, 9], yTitlePos: [15, 290],
    minorTicks: [237, 236, 235, 234, 233, 232, 231, 230, 229, 228, 227],
    texts: moLabelText.map((t, i) => ({ x: moLabelBE[i], y: moLabelY[i], parts: [t], size: 9.5 }))
      .concat([{ x: 237.55, y: 549, parts: ['Mo ', '*3d'], size: 16, fam: CALI, align: 'left' }]),
    legend: {
      x0: 58, y0: 501, dy: 17, len: 27, size: 11.2,
      items: moLegendNames.map((n, i) => ({
        color: [MO_ORANGE, MO_BLUE, '#000', VIOLET][i],
        parts: ['SS(+' + n, '_NaCl', ') ' + moLegendSides[i]]
      }))
    }
  }
});
</script>
</body>
</html>
